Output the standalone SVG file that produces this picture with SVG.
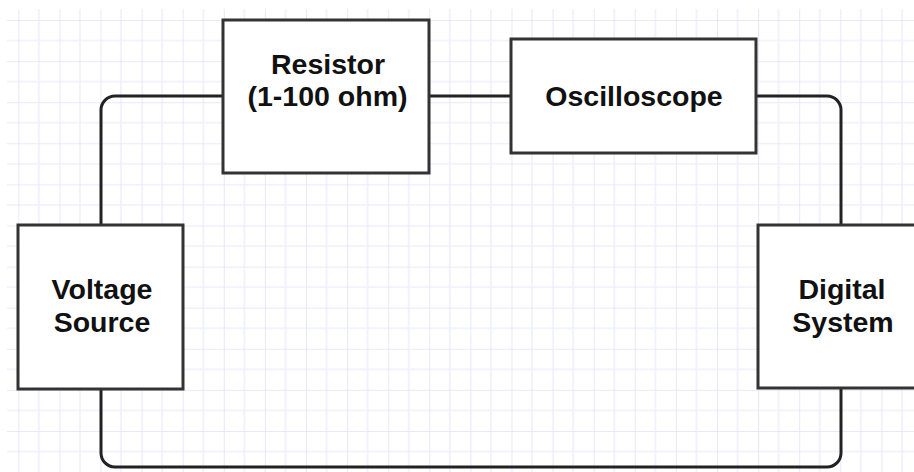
<svg xmlns="http://www.w3.org/2000/svg" width="914" height="472" viewBox="0 0 914 472">
  <defs>
    <pattern id="grid" patternUnits="userSpaceOnUse" x="18.3" y="20" width="41.1" height="41.1">
      <path d="M20.55 0 V41.1 M0 20.55 H41.1" stroke="#f0f0fe" stroke-width="1.6" fill="none"/>
      <path d="M0 0 V41.1 M0 0 H41.1" stroke="#e2e2fc" stroke-width="1.6" fill="none"/>
    </pattern>
  </defs>
  <style>
    .box { fill: #ffffff; stroke: #333333; stroke-width: 3; }
    .lbl { font-family: "Liberation Sans", Arial, sans-serif; font-weight: bold; font-size: 28.5px; fill: #111111; text-anchor: middle; }
    .wire { fill: none; stroke: #222222; stroke-width: 3; }
  </style>
  <rect x="0" y="0" width="914" height="472" fill="#ffffff"/>
  <rect x="7" y="9" width="907" height="463" fill="url(#grid)"/>

  <g id="connectors">
    <path class="wire" d="M101 225 V110 A14 14 0 0 1 115 96 H223"/>
    <path class="wire" d="M429 96 H511"/>
    <path class="wire" d="M756 96 H827 A14 14 0 0 1 841 110 V225"/>
    <path class="wire" d="M101 389 V453 A14 14 0 0 0 115 467 H827 A14 14 0 0 0 841 453 V388"/>
  </g>

  <g id="resistor">
    <rect class="box" x="223" y="20" width="206" height="153"/>
    <text class="lbl" x="328" y="73.5">Resistor</text>
    <text class="lbl" x="327.5" y="106">(1-100 ohm)</text>
  </g>

  <g id="oscilloscope">
    <rect class="box" x="511" y="39" width="245" height="114"/>
    <text class="lbl" x="634" y="106">Oscilloscope</text>
  </g>

  <g id="voltage-source">
    <rect class="box" x="18" y="225" width="165" height="164"/>
    <text class="lbl" x="102" y="298.5">Voltage</text>
    <text class="lbl" x="102" y="331.5">Source</text>
  </g>

  <g id="digital-system">
    <rect class="box" x="758" y="225" width="165" height="163"/>
    <text class="lbl" x="842" y="299">Digital</text>
    <text class="lbl" x="843" y="331.5">System</text>
  </g>
</svg>
